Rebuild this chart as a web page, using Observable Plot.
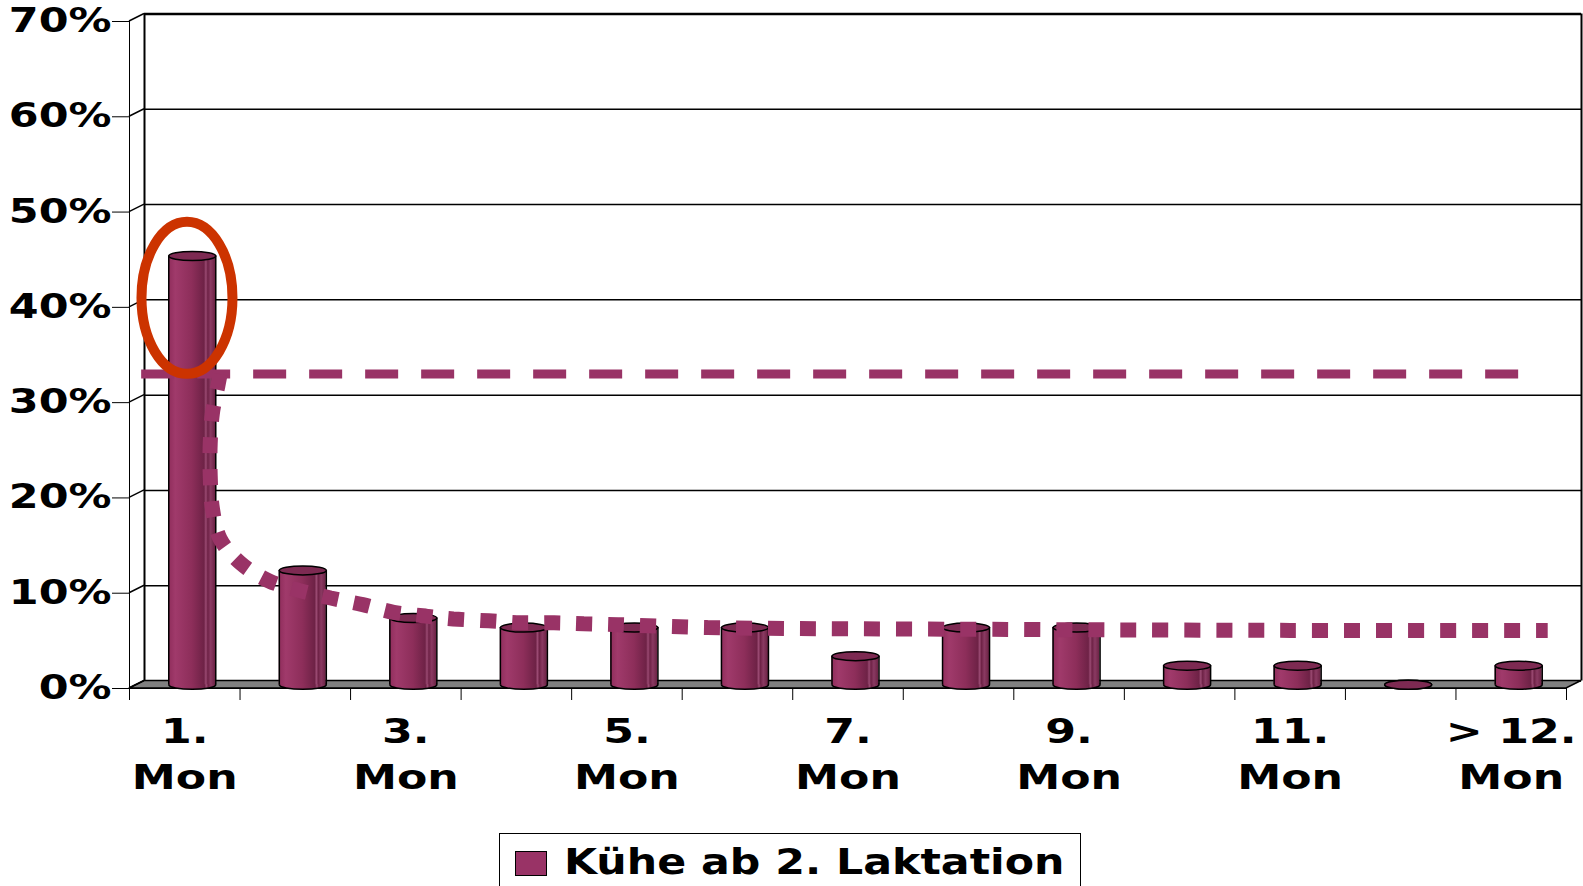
<!DOCTYPE html>
<html><head><meta charset="utf-8">
<script src="https://cdn.jsdelivr.net/npm/d3@7"></script>
<script src="https://cdn.jsdelivr.net/npm/@observablehq/plot@0.6"></script>
<style>
body{margin:0;background:#fff;}
#chart{position:relative;width:1583px;height:886px;overflow:hidden;background:#fff;}
#legend{position:absolute;left:499px;top:833px;width:582px;height:80px;border:1.5px solid #000;box-sizing:border-box;background:#fff;}
#legend .sw{position:absolute;left:15px;top:17px;width:32px;height:25px;background:#993366;border:1px solid #000;box-sizing:border-box;}
#legend .lt{position:absolute;left:64px;top:11px;font-family:"DejaVu Sans";font-weight:bold;font-size:35px;line-height:35px;white-space:nowrap;transform:scaleX(1.22);transform-origin:0 0;color:#000;}
</style></head>
<body><div id="chart"><div id="legend"><span class="sw"></span><span class="lt"></span></div></div>
<script>
// ---- data ----
const months = ["1. Mon","2. Mon","3. Mon","4. Mon","5. Mon","6. Mon","7. Mon","8. Mon","9. Mon","10. Mon","11. Mon","12. Mon","> 12. Mon"];
const tickLabels = ["1.\nMon","","3.\nMon","","5.\nMon","","7.\nMon","","9.\nMon","","11.\nMon","","> 12.\nMon"];
const shares = [45, 12, 7, 6, 6, 6, 3, 6, 6, 2, 2, 0, 2];
const yTicks = [0, 10, 20, 30, 40, 50, 60, 70];
const seriesName = "Kühe ab 2. Laktation";
// dashed reference level
const refLevel = 33, refFrom = 0.11, refTo = 12.57;
// dotted trend curve (x in month-slot units, y in %)
const trendX = [0.82, 0.80, 0.75, 0.73, 0.73, 0.75, 0.82, 1.01, 1.26, 1.53, 1.82, 2.11, 2.39, 2.68, 2.93, 3.25, 3.54, 3.84, 4.11, 4.42, 5.23, 7.97, 10.5, 12.83];
const trendY = [33.0, 31.8, 28.9, 25.7, 22.4, 18.9, 15.7, 13.1, 11.3, 10.3, 9.5, 8.8, 8.0, 7.6, 7.3, 7.1, 6.9, 6.9, 6.8, 6.7, 6.4, 6.2, 6.1, 6.1];
// highlight ellipse around first bar
const highlightX = 0.52, highlightY = 41;

// ---- style constants ----
const DX = 15, DY = -7.5;   // 3D depth offset
const BAR_HALF = 23.5;      // px
const STRETCH = 1.3;
const MAROON = "#993366";

const bars = months.map((m, i) => ({i, month: m, v: shares[i], label: tickLabels[i]}));
const trend = trendX.map((x, k) => ({x, y: trendY[k]}));
const n = months.length;

function ell(rx, ry) {
  const k = 0.5523;
  return {draw(c) {
    c.moveTo(rx, 0);
    c.bezierCurveTo(rx, ry * k, rx * k, ry, 0, ry);
    c.bezierCurveTo(-rx * k, ry, -rx, ry * k, -rx, 0);
    c.bezierCurveTo(-rx, -ry * k, -rx * k, -ry, 0, -ry);
    c.bezierCurveTo(rx * k, -ry, rx, -ry * k, rx, 0);
    c.closePath();
  }};
}

function decor(index, scales) {
  const {x, y} = scales;
  const g = d3.create("svg:g");
  g.append("path")
    .attr("d", d3.line()([[x(0), y(0)], [x(n), y(0)], [x(n) + DX, y(0) + DY], [x(0) + DX, y(0) + DY]]) + "Z")
    .attr("fill", "#808080").attr("stroke", "#000").attr("stroke-width", 1.5);
  g.selectAll("line").data(yTicks).join("line")
    .attr("x1", x(0)).attr("y1", d => y(d))
    .attr("x2", x(0) + DX).attr("y2", d => y(d) + DY)
    .attr("stroke", "#000").attr("stroke-width", 1.5);
  return g.node();
}

const BX = DX / 2, BY = DY / 2;
const plot = Plot.plot({
  width: 1583, height: 826,
  marginLeft: 129, marginRight: 17, marginTop: 21, marginBottom: 138,
  style: {fontFamily: "DejaVu Sans", fontWeight: "bold", fontSize: "33px", color: "#000", background: "#fff", overflow: "visible"},
  x: {domain: [0, n], ticks: d3.range(n + 1), tickFormat: () => "", tickSize: 12, line: true, label: null},
  y: {domain: [0, 70], ticks: yTicks, tickFormat: d => d + "%", tickSize: 17, tickPadding: 1, line: true, label: null},
  marks: [
    Plot.ruleY(yTicks, {x1: 0, x2: n, dx: DX, dy: DY, stroke: "#000", strokeWidth: 1.5}),
    Plot.ruleX([0, n], {y1: 0, y2: 70, dx: DX, dy: DY, stroke: "#000", strokeWidth: 2}),
    Plot.ruleY([70], {x1: 0, x2: n, dx: DX, dy: DY, stroke: "#000", strokeWidth: 2.5}),
    decor,
    Plot.dot(bars, {x: d => d.i + 0.5, y: 0, dx: BX, dy: BY, symbol: ell(BAR_HALF, 4.5), fill: "url(#cyl)", stroke: "#000", strokeWidth: 1.5}),
    Plot.rect(bars, {x1: d => d.i, x2: d => d.i + 1, y1: 0, y2: d => d.v, insetLeft: 31.75, insetRight: 31.75, dx: BX, dy: BY, fill: "url(#cyl)"}),
    Plot.ruleX(bars, {x: d => d.i + 0.5, y1: 0, y2: d => d.v, dx: BX - BAR_HALF, dy: BY, stroke: "#000", strokeWidth: 1.5}),
    Plot.ruleX(bars, {x: d => d.i + 0.5, y1: 0, y2: d => d.v, dx: BX + BAR_HALF, dy: BY, stroke: "#000", strokeWidth: 1.5}),
    Plot.dot(bars, {x: d => d.i + 0.5, y: d => d.v, dx: BX, dy: BY, symbol: ell(BAR_HALF, 4.5), fill: "#7d2a52", stroke: "#000", strokeWidth: 1.5}),
    Plot.ruleY([refLevel], {x1: refFrom, x2: refTo, stroke: MAROON, strokeWidth: 9, strokeDasharray: "33,23", strokeLinecap: "butt"}),
    Plot.line(trend, {x: "x", y: "y", curve: "catmull-rom", stroke: MAROON, strokeWidth: 15, strokeDasharray: "16,16", strokeLinecap: "butt", strokeLinejoin: "miter"}),
    Plot.dot([{x: highlightX, y: highlightY}], {x: "x", y: "y", symbol: ell(45.5, 76), fill: "none", stroke: "#cc3300", strokeWidth: 10}),
    Plot.text(bars, {x: d => d.i + 0.5, y: 0, text: d => d.label, lineAnchor: "top", dy: 21, fontSize: 34, lineHeight: 1.37, fontWeight: "bold", fill: "#000"})
  ]
});

const chart = document.getElementById("chart");
chart.insertBefore(plot, chart.firstChild);
const svg = plot.tagName.toLowerCase() === "svg" ? plot : plot.querySelector("svg");
svg.style.position = "absolute"; svg.style.left = "0"; svg.style.top = "0";
d3.select(svg).insert("defs", ":first-child").html(`
<linearGradient id="cyl" x1="0" x2="1" y1="0" y2="0">
<stop offset="0" stop-color="#8f2d5b"/>
<stop offset="0.15" stop-color="#a03a6b"/>
<stop offset="0.5" stop-color="#8d2e5a"/>
<stop offset="0.76" stop-color="#6e2246"/>
<stop offset="0.8" stop-color="#9a4a72"/>
<stop offset="0.84" stop-color="#6e2246"/>
<stop offset="0.9" stop-color="#8a3a62"/>
<stop offset="1" stop-color="#6a2143"/>
</linearGradient>`);

svg.querySelectorAll("text").forEach(t => {
  t.style.fontWeight = "bold";
  t.style.fill = "#000";
  const parts = t.querySelectorAll("tspan");
  (parts.length ? Array.from(parts) : [t]).forEach(el => {
    const L = el.getComputedTextLength();
    if (L > 0) { el.setAttribute("textLength", L * STRETCH); el.setAttribute("lengthAdjust", "spacingAndGlyphs"); }
  });
});

document.querySelector("#legend .lt").textContent = seriesName;
</script>
</body></html>
